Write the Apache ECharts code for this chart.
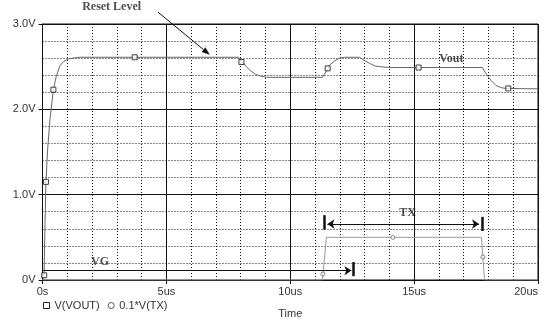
<!DOCTYPE html>
<html><head><meta charset="utf-8">
<script src="https://cdn.jsdelivr.net/npm/echarts@6/dist/echarts.min.js"></script>
<style>html,body{margin:0;padding:0;background:#fff}#c{width:548px;height:325px}</style>
</head><body><div id="c"></div>
<script>
// Time (us), volts
const voutData = [[0,0],[0.06,0.03],[0.1,0.65],[0.14,1.15],[0.2,1.5],[0.3,1.88],[0.44,2.23],[0.55,2.38],[0.7,2.51],[0.85,2.56],[1.0,2.585],[1.2,2.6],[1.5,2.61],
  [7.9,2.61],[8.0,2.58],[8.2,2.51],[8.4,2.45],[8.6,2.41],[8.8,2.39],[9.05,2.375],[11.3,2.375],[11.4,2.42],[11.5,2.47],[11.6,2.52],[11.8,2.57],[12.0,2.6],[12.2,2.61],
  [12.8,2.61],[13.0,2.57],[13.2,2.54],[13.4,2.51],[13.6,2.5],[14.0,2.49],[17.75,2.49],[17.9,2.42],[18.1,2.34],[18.3,2.28],[18.5,2.255],[18.7,2.245],[20,2.24]];
const voutMarkers = [[0.07,0.055],[0.14,1.15],[0.44,2.23],[3.72,2.61],[8.03,2.555],[11.51,2.48],[15.18,2.49],[18.8,2.245]];
const txData = [[0,0],[11.3,0],[11.46,0.5],[17.72,0.5],[17.84,0],[20,0]];
const txMarkers = [[11.32,0.07],[14.14,0.5],[17.775,0.27]];
const xTicks = ['0s','5us','10us','15us','20us'];
const yTicks = ['0V','1.0V','2.0V','3.0V'];
const notes = [
  {name:'Reset Level', value:[2.79,3.196]},
  {name:'VG', value:[2.32,0.215]},
  {name:'TX', value:[14.74,0.789]},
  {name:'Vout', value:[16.5,2.586]}
];
const resetArrow = [[4.66,3.14],[6.75,2.64]];

const chart = echarts.init(document.getElementById('c'), null, {renderer:'canvas'});
const dotted = {color:'#111', width:1, type:[1,2]};
const solid = {color:'#111', width:1};
const txtCol = '#333';
const arrowLine = (a,b,sa,sb) => [{coord:a, symbol:sa}, {coord:b, symbol:sb}];
chart.setOption({
  animation:false,
  grid:{left:42.5, right:10, top:24, bottom:45, show:true, borderColor:'#111', borderWidth:1, containLabel:false},
  xAxis:{type:'value', min:0, max:20, interval:5,
    name:'Time', nameLocation:'middle', nameGap:28, nameTextStyle:{fontSize:11, color:txtCol, fontFamily:'Liberation Sans'},
    axisLine:{lineStyle:{color:'#111'}}, axisTick:{show:true, length:4, lineStyle:{color:'#111'}},
    axisLabel:{margin:6, fontSize:11, color:txtCol, fontFamily:'Liberation Sans', alignMaxLabel:'right', formatter:v=>xTicks[v/5]},
    splitLine:{show:true, lineStyle:solid},
    minorTick:{show:false, splitNumber:5}, minorSplitLine:{show:true, lineStyle:dotted}},
  yAxis:{type:'value', min:0, max:3, interval:1,
    axisLine:{show:true, lineStyle:{color:'#111'}}, axisTick:{show:true, length:4, lineStyle:{color:'#111'}},
    axisLabel:{margin:7, fontSize:11, color:txtCol, fontFamily:'Liberation Sans', formatter:v=>yTicks[Math.round(v)]},
    splitLine:{show:true, lineStyle:solid},
    minorTick:{show:false, splitNumber:5}, minorSplitLine:{show:true, lineStyle:dotted}},
  legend:{left:38, top:295, itemWidth:6, itemHeight:6, itemGap:8, textStyle:{fontSize:11, color:txtCol, fontFamily:'Liberation Sans'},
    data:[{name:'V(VOUT)', icon:'rect', itemStyle:{color:'#fff', borderColor:'#222', borderWidth:1}},
          {name:'0.1*V(TX)', icon:'circle', itemStyle:{color:'#fff', borderColor:'#555', borderWidth:1}}]},
  series:[
    {name:'0.1*V(TX)', type:'line', data:txData, showSymbol:false, lineStyle:{color:'#999', width:1}, itemStyle:{color:'#999'}, z:3, silent:true},
    {name:'0.1*V(TX)', type:'scatter', data:txMarkers, symbol:'circle', symbolSize:4, itemStyle:{color:'#fff', borderColor:'#666', borderWidth:1}, z:4, silent:true},
    {name:'V(VOUT)', type:'line', data:voutData, showSymbol:false, lineStyle:{color:'#666', width:1}, itemStyle:{color:'#666'}, z:3, silent:true},
    {name:'V(VOUT)', type:'scatter', data:voutMarkers, symbol:'rect', symbolSize:5, itemStyle:{color:'#fff', borderColor:'#111', borderWidth:1}, z:4, silent:true},
    {name:'notes', type:'scatter', data:notes, symbolSize:0, clip:false, silent:true, z:6,
      label:{show:true, position:'inside', formatter:p=>p.name, fontFamily:'Liberation Serif', fontWeight:'bold', fontSize:12, color:'#222'}},
    {name:'arrows', type:'line', data:[], clip:false, silent:true, z:5,
      markLine:{silent:true, animation:false, symbolSize:7, label:{show:false}, lineStyle:{color:'#111', width:1, type:'solid'},
        data:[
          arrowLine([0,0.11],[12.47,0.11],'none','arrow'),
          arrowLine([11.5,0.656],[17.62,0.656],'arrow','arrow'),
          [{coord:[12.55,0.045], symbol:'none', lineStyle:{width:2.5}},{coord:[12.55,0.21], symbol:'none'}],
          [{coord:[11.38,0.59], symbol:'none', lineStyle:{width:2.5}},{coord:[11.38,0.76], symbol:'none'}],
          [{coord:[17.75,0.575], symbol:'none', lineStyle:{width:2.5}},{coord:[17.75,0.74], symbol:'none'}]
        ]}}
  ]
});
// Reset Level arrow (extends above the plot, drawn as graphic from data coords)
const a = chart.convertToPixel({gridIndex:0}, resetArrow[0]);
const b = chart.convertToPixel({gridIndex:0}, resetArrow[1]);
const dx = b[0]-a[0], dy = b[1]-a[1], L = Math.hypot(dx,dy), ux = dx/L, uy = dy/L;
const hl = 8, hw = 3;
const base = [b[0]-ux*hl, b[1]-uy*hl];
chart.setOption({graphic:[
  {type:'line', shape:{x1:a[0], y1:a[1], x2:base[0], y2:base[1]}, style:{stroke:'#111', lineWidth:1}, silent:true, z:10},
  {type:'polygon', shape:{points:[[b[0],b[1]],[base[0]-uy*hw, base[1]+ux*hw],[base[0]+uy*hw, base[1]-ux*hw]]}, style:{fill:'#111'}, silent:true, z:10}
]});
</script></body></html>
